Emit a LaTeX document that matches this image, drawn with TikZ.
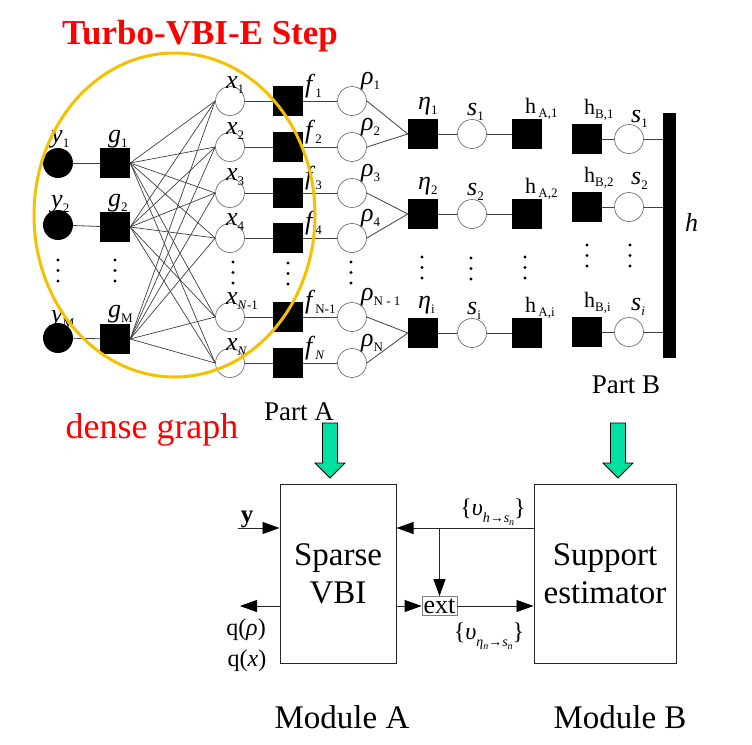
\documentclass[tikz,border=0pt]{standalone}
\usepackage{fontspec}
\setmainfont{Liberation Serif}
\usetikzlibrary{arrows.meta, positioning, calc}
\definecolor{ringyellow}{RGB}{245,192,0}
\definecolor{arrowgreen}{RGB}{0,224,160}
\newcommand{\lsub}[1]{\raisebox{-0.22em}{\fontsize{13}{13}\selectfont #1}}
\newcommand{\lsubb}[1]{\raisebox{-0.2em}{\fontsize{10}{10}\selectfont #1}}

\begin{document}
\begin{tikzpicture}[x=1pt, y=-1pt,
        wire/.style={line width=0.8pt, black!75},
        arr/.style={line width=0.8pt, black!85, -{Triangle[length=17pt, width=12pt, color=black]}},
        obs/.style={circle, fill=black, minimum size=30, inner sep=0},
        var/.style={circle, draw=black!55, line width=0.7pt, fill=white, minimum size=29, inner sep=0},
        fac/.style={rectangle, fill=black, minimum size=30, inner sep=0},
        lab/.style={anchor=base west, inner sep=0, font=\fontsize{26}{26}\selectfont},
        hlab/.style={anchor=base west, inner sep=0, font=\fontsize{22}{22}\selectfont},
        txt/.style={inner sep=0, font=\fontsize{27}{27}\selectfont},
        module/.style={draw=black!85, line width=1pt, minimum height=179, align=center, font=\fontsize{33}{40}\selectfont}
    ]
        \useasboundingbox (0,0) rectangle (752,744);

        % Observations y and factors g
        \node[obs] (y1) at (58,163) {};
        \node[obs] (y2) at (58,225) {};
        \node[obs] (yM) at (58,338) {};
        \node[fac] (g1) at (115,163) {};
        \node[fac] (g2) at (115,227) {};
        \node[fac] (gM) at (115,339) {};
        \draw[wire] (y1) -- (g1);
        \draw[wire] (y2) -- (g2);
        \draw[wire] (yM) -- (gM);
        \node[lab] (ty1) at (51,142) {\textit{y}\lsub{1}};
        \node[lab] (ty2) at (51,207) {\textit{y}\lsub{2}};
        \node[lab] (tyM) at (51,322) {\textit{y}\lsub{M}};
        \node[lab] (tg1) at (108,142) {\textit{g}\lsub{1}};
        \node[lab] (tg2) at (108,206) {\textit{g}\lsub{2}};
        \node[lab] (tgM) at (108,317) {\textit{g}\lsub{M}};

        % Variables x, factors f and rho
        \foreach \yy/\xs/\fs/\rs [count=\k] in {101/1/1/1, 147/2/2/2, 193/3/3/3, 238/4/4/4,
                317/{\textit{N}-1}/{N-1}/{N - 1}, 363/{\textit{N}}/{\textit{N}}/N} {
            \node[var] (x\k) at (230,\yy) {};
            \node[fac] (f\k) at (288,\yy) {};
            \node[var] (r\k) at (352,\yy) {};
            \draw[wire] (x\k) -- (f\k) -- (r\k);
            \node[lab] (tx\k) at (226,\yy-13) {\textit{x}\lsub{\xs}};
            \node[lab] (tf\k) at (305,\yy-9) {\textit{f}\lsub{\fs}};
            \node[lab] (tr\k) at (361,\yy-17) {\textit{ρ}\lsub{\rs}};
        }

        % Dense connections g -- x
        \foreach \g in {g1, g2, gM}
            \foreach \k in {1,...,6}
                \draw[wire, line width=0.7pt] (\g.east) -- (x\k.west);

        % eta, s and h_A
        \foreach \yy/\es/\a/\b [count=\k] in {134/1/1/2, 214/2/3/4, 333/i/5/6} {
            \node[fac] (e\k) at (423,\yy) {};
            \node[var] (s\k) at (472,\yy) {};
            \node[fac] (hA\k) at (527,\yy) {};
            \draw[wire] (r\a.east) -- (e\k.west) -- (r\b.east);
            \draw[wire] (e\k) -- (s\k) -- (hA\k);
            \node[lab] (te\k) at (418,\yy-25) {\textit{η}\lsub{\es}};
            \node[lab] (ts\k) at (467,\yy-19) {\textit{s}\lsub{\es}};
            \node[hlab] (thA\k) at (525,\yy-21) {h\lsub{\,A,\es}};
        }

        % Part B: h_B, s and the bar h
        \node[fill=black, minimum width=13, minimum height=245, inner sep=0] (hbar) at (669.5,235.5) {};
        \node[lab, font=\itshape\fontsize{26}{26}\selectfont] (th) at (685,231) {h};
        \foreach \yy/\bs/\ss/\dy [count=\k] in {139/1/1/17, 207/2/2/23, 332/i/\textit{i}/22} {
            \node[fac] (hB\k) at (587,\yy) {};
            \node[var] (t\k) at (629,\yy) {};
            \draw[wire] (hB\k) -- (t\k) -- (t\k -| hbar.west);
            \node[hlab] (thB\k) at (584,\yy-25) {h\lsub{B,\bs}};
            \node[lab] (tt\k) at (631,\yy-\dy) {\textit{s}\lsub{\ss}};
        }

        % Vertical dots
        \foreach \cx/\cy in {58/260, 115/260, 233/262, 288/263, 351/262,
                422/257, 471/258, 525/257, 587/245, 630/245}
            \foreach \d in {0, 10.5, 21}
                \fill (\cx,\cy+\d) circle (1.6);

        % Dense graph ring
        \draw[ringyellow, line width=3pt] (174.5,215) ellipse [x radius=140.5, y radius=162];

        % Titles and part labels
        \node[inner sep=0, text=red, font=\bfseries\fontsize{35}{35}\selectfont] (title) at (200,36) {Turbo-VBI-E Step};
        \node[inner sep=0, text=red, font=\fontsize{36}{36}\selectfont] (dense) at (152,430) {dense graph};
        \node[txt] (partA) at (299,412) {Part A};
        \node[txt] (partB) at (626,385) {Part B};

        % Green arrows
        \foreach \cx in {330, 618}
            \draw[fill=arrowgreen, line width=0.8pt] (\cx-7.5,423) -- (\cx+7.5,423) -- (\cx+7.5,463)
                -- (\cx+15,463) -- (\cx,478) -- (\cx-15,463) -- (\cx-7.5,463) -- cycle;

        % Modules
        \node[module, minimum width=116] (vbi) at (338,573.5) {Sparse\\[-2pt]VBI};
        \node[module, minimum width=142] (est) at (605,573.5) {Support\\[-2pt]estimator};
        \node[inner sep=0, font=\fontsize{33}{33}\selectfont] (modA) at (342,717) {Module A};
        \node[inner sep=0, font=\fontsize{33}{33}\selectfont] (modB) at (620,717) {Module B};

        % Messages between the modules
        \node[draw=black!50, line width=0.8pt, minimum width=35, minimum height=19, inner sep=0,
            font=\fontsize{26}{26}\selectfont] (ext) at (439.5,606) {ext};
        \coordinate (yin) at (238,528);
        \coordinate (tap) at (439.5,528);
        \coordinate (qout) at (240,606);
        \draw[arr] (yin) -- (yin -| vbi.west);
        \draw[arr] (est.west |- yin) -- (vbi.east |- yin);
        \draw[arr] (tap) -- (ext.north);
        \draw[arr] (vbi.east |- ext) -- (ext.west);
        \draw[arr] (ext.east) -- (est.west |- ext);
        \draw[arr] (vbi.west |- qout) -- (qout);

        \node[anchor=base, inner sep=0, font=\bfseries\fontsize{25}{25}\selectfont] (ty) at (247,522) {y};
        \node[inner sep=0, font=\fontsize{24}{24}\selectfont] (qrho) at (246,630) {q(\textit{ρ})};
        \node[inner sep=0, font=\fontsize{24}{24}\selectfont] (qx) at (247,661) {q(\textit{x})};
        \node[inner sep=0, font=\fontsize{24}{24}\selectfont] (vhs) at (493,512)
            {\{\textit{υ}\raisebox{-0.3em}{\fontsize{14}{14}\selectfont\textit{h}→\textit{s}\lsubb{\textit{n}}}\}};
        \node[inner sep=0, font=\fontsize{24}{24}\selectfont] (ves) at (489,636)
            {\{\textit{υ}\raisebox{-0.3em}{\fontsize{14}{14}\selectfont\textit{η}\lsubb{\textit{n}}→\textit{s}\lsubb{\textit{n}}}\}};
    \end{tikzpicture}
\end{document}
